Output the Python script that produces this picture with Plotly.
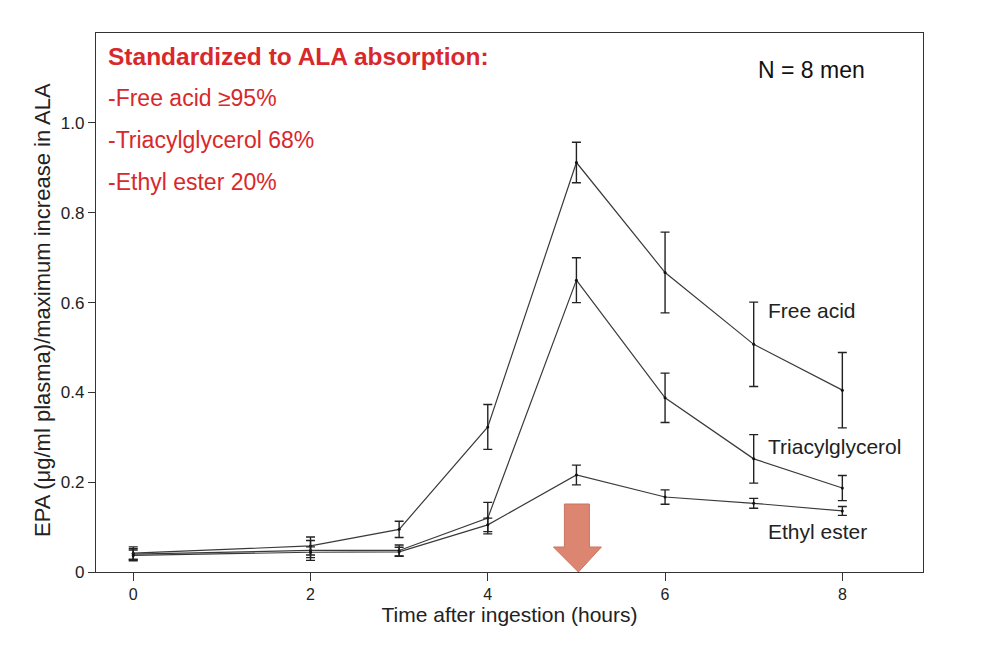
import plotly.graph_objects as go

hours = [0, 2, 3, 4, 5, 6, 7, 8]

free_acid = [0.042, 0.058, 0.095, 0.323, 0.912, 0.667, 0.507, 0.405]
free_acid_err = [0.014, 0.02, 0.018, 0.05, 0.045, 0.09, 0.094, 0.084]

triacylglycerol = [0.040, 0.048, 0.048, 0.12, 0.65, 0.388, 0.252, 0.187]
triacylglycerol_err = [0.012, 0.022, 0.012, 0.035, 0.05, 0.055, 0.054, 0.028]

ethyl_ester = [0.037, 0.044, 0.045, 0.105, 0.216, 0.167, 0.153, 0.136]
ethyl_ester_err = [0.012, 0.012, 0.01, 0.015, 0.022, 0.016, 0.011, 0.01]

series_names = ["Free acid", "Triacylglycerol", "Ethyl ester"]
label_y = [0.583, 0.28, 0.091]

x_ticks = [0, 2, 4, 6, 8]
y_ticks = [0, 0.2, 0.4, 0.6, 0.8, 1.0]
y_tick_text = ["0", "0.2", "0.4", "0.6", "0.8", "1.0"]

peak_hour = 5

header = "Standardized to ALA absorption:"
notes = ["-Free acid \u226595%", "-Triacylglycerol 68%", "-Ethyl ester 20%"]
header_y = 0.957
notes_y = [0.8794, 0.8015, 0.7236]

LINE = "#3a3a3a"
RED = "#d8282b"
FONT = "Liberation Sans, Arial, sans-serif"
NARROW = "Liberation Sans Narrow, Liberation Sans, Arial, sans-serif"

fig = go.Figure()
for name, ys, errs in zip(series_names,
                          [free_acid, triacylglycerol, ethyl_ester],
                          [free_acid_err, triacylglycerol_err, ethyl_ester_err]):
    fig.add_trace(go.Scatter(
        x=hours, y=ys, name=name, mode="lines+markers",
        line=dict(color=LINE, width=1.2),
        marker=dict(color="#111", size=3),
        error_y=dict(type="data", array=errs, visible=True,
                     color="#222", thickness=1.4, width=4.5),
        showlegend=False,
    ))

# series labels
for name, ly in zip(series_names, label_y):
    fig.add_annotation(x=7.14, y=ly, text=name, showarrow=False,
                       xanchor="left", yanchor="middle",
                       font=dict(family=FONT, size=21, color="#222"))

# red header notes
fig.add_annotation(xref="paper", yref="paper", x=0.012, y=header_y, text="<b>" + header + "</b>",
                   showarrow=False, xanchor="left", yanchor="middle",
                   font=dict(family=FONT, size=24.5, color=RED))
for t, ny in zip(notes, notes_y):
    fig.add_annotation(xref="paper", yref="paper", x=0.012, y=ny, text=t,
                       showarrow=False, xanchor="left", yanchor="middle",
                       font=dict(family=FONT, size=23, color=RED))

fig.add_annotation(xref="paper", yref="paper", x=0.932, y=0.9314, text="N = 8 men",
                   showarrow=False, xanchor="right", yanchor="middle",
                   font=dict(family=FONT, size=23, color="#111"))

# y axis title as rotated annotation
fig.add_annotation(xref="paper", yref="paper", x=-0.0653, y=0.486,
                   text="EPA (\u03bcg/ml plasma)/maximum increase in ALA",
                   textangle=-90, showarrow=False, xanchor="center", yanchor="middle",
                   font=dict(family=FONT, size=22, color="#222"))

# arrow marking peak
fig.add_shape(type="path", xref="x", yref="y", xsizemode="pixel", ysizemode="pixel",
              xanchor=peak_hour, yanchor=0,
              path="M -12,68 L 13,68 L 13,25 L 25,25 L 2,0 L -23,25 L -12,25 Z",
              fillcolor="#dc8672", line=dict(color="#c97560", width=1), layer="above")

fig.update_layout(
    width=1000, height=649,
    margin=dict(l=88, r=85, t=25, b=85),
    paper_bgcolor="white", plot_bgcolor="white",
    font=dict(family=FONT, size=16, color="#222"),
    xaxis=dict(range=[-0.42, 8.91], tickvals=x_ticks, ticks="outside", ticklen=8,
               tickcolor="#333", showgrid=False, zeroline=False,
               showline=True, linecolor="#333", linewidth=1.3, mirror=True,
               tickfont=dict(family=NARROW, size=16, color="#222"),
               title=dict(text="Time after ingestion (hours)", standoff=2,
                          font=dict(family=NARROW, size=21, color="#222"))),
    yaxis=dict(range=[0, 1.2004], tickvals=y_ticks, ticktext=y_tick_text,
               ticks="outside", ticklen=7, tickcolor="#333",
               showgrid=False, zeroline=False,
               showline=True, linecolor="#333", linewidth=1.3, mirror=True,
               tickfont=dict(family=FONT, size=17, color="#222")),
)

fig.write_html("out.html")
